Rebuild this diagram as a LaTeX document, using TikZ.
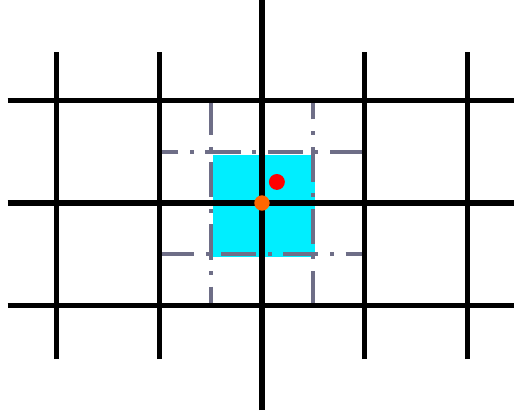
\documentclass[tikz,border=0pt]{standalone}
\usetikzlibrary{positioning}
\definecolor{cellcyan}{RGB}{0,238,255}
\definecolor{dualgray}{RGB}{110,110,135}
\definecolor{ptorange}{RGB}{255,102,0}
\begin{document}
\begin{tikzpicture}[
    gridline/.style={line width=2.8pt, black},
    dualline/.style={line width=2.2pt, dualgray, dash pattern=on 19.4pt off 6.4pt on 2.2pt off 6.4pt},
    ptdot/.style={circle, draw=none, inner sep=0pt, minimum size=0.31cm}
]
    \useasboundingbox (-5.10,-4.167) rectangle (4.906,3.952);
    % control cell
    \fill[cellcyan] (-0.95,-1.05) rectangle (1.03,0.94);
    % dual cell lines
    \draw[dualline] (2,1) -- (-2,1);
    \draw[dualline] (-1,2) -- (-1,-2);
    \draw[dualline] (-2,-1) -- (2,-1);
    \draw[dualline] (1,-2) -- (1,2);
    % grid
    \foreach \y in {-2,0,2}
        \draw[gridline] (-4.95,\y) -- (5,\y);
    \foreach \x in {-4,-2,2,4}
        \draw[gridline] (\x,-3.04) -- (\x,2.94);
    \draw[gridline] (0,-4.03) -- (0,4);
    % points
    \node[ptdot, fill=ptorange, minimum size=0.30cm] (gridpt) at (0,0) {};
    \node[ptdot, fill=red] (samplept) at (0.29,0.41) {};
\end{tikzpicture}
\end{document}
